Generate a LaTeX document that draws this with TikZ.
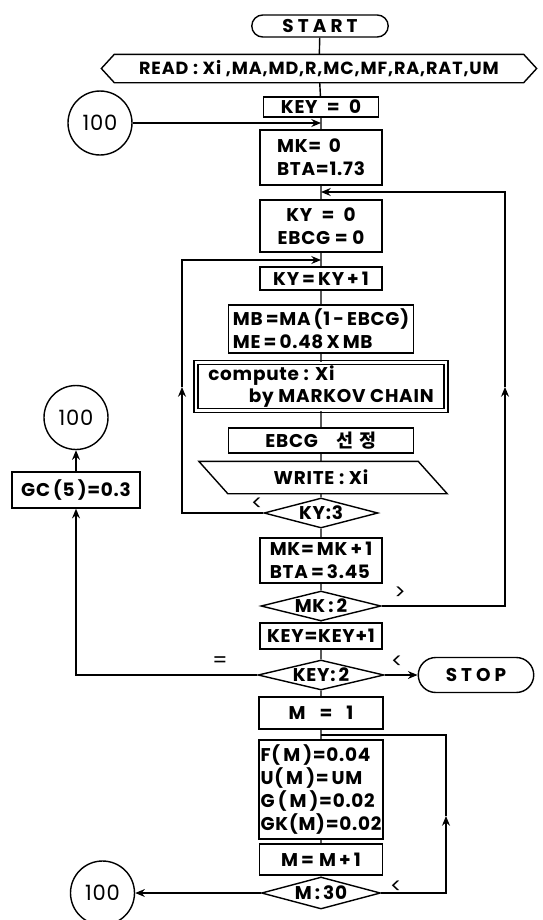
\documentclass[tikz,border=0pt]{standalone}
\usepackage{fontspec}
\setmainfont{Poppins}[LetterSpace=4]
\newfontfamily\kofont{Noto Sans CJK KR}
\newfontfamily\widefont{Poppins}[LetterSpace=22]
\newfontfamily\readfont{Poppins}[LetterSpace=5]
\usetikzlibrary{arrows.meta,shapes.geometric,shapes.misc}

\begin{document}
\begin{tikzpicture}[x=0.02cm, y=-0.02cm, line width=0.8pt, >={Stealth[length=5.5pt,width=4.5pt]},
    every node/.style={font=\fontsize{10.5}{13}\selectfont\bfseries, inner sep=1pt},
    box/.style={draw, rectangle, minimum width=2.44cm, align=left},
    dec/.style={draw, diamond, aspect=4.2, inner sep=0pt, minimum width=2.3cm, minimum height=0.6cm},
    term/.style={draw, rounded rectangle, font=\widefont\fontsize{10.5}{12}\selectfont\bfseries},
    conn/.style={draw, circle, minimum size=1.28cm, inner sep=0pt, font=\fontsize{12}{14}\selectfont},
    lab/.style={font=\fontsize{12}{14}\selectfont}]

    \useasboundingbox (0,0) rectangle (542,920);

    % Inizio e lettura
    \node[term, minimum width=2.8cm, minimum height=0.44cm] (start) at (320,26) {START};
    \node[minimum width=8.16cm, minimum height=0.54cm, font=\readfont\fontsize{10}{12}\selectfont\bfseries] (read) at (319,68.5)
        {READ : Xi ,MA,MD,R,MC,MF,RA,RAT,UM};
    \draw (read.north west) -- (read.north east) -- ([xshift=0.26cm]read.east) -- (read.south east)
        -- (read.south west) -- ([xshift=-0.26cm]read.west) -- cycle;

    % Ciclo KEY / MK
    \node[box, minimum width=2.3cm, minimum height=0.4cm, align=center] (key0) at (321,107) {KEY \ = \ 0};
    \node[conn] (c100a) at (100,123) {100};
    \node[box, minimum height=1.1cm] (mk0) at (321,157.5) {MK= \,0\\BTA=1.73};
    \node[box, minimum height=1.04cm, align=center] (ky0) at (321,226) {KY \ = \ 0\\EBCG = 0};

    % Ciclo KY
    \node[box, minimum height=0.46cm] (kyinc) at (321,278.5) {KY\,=\,KY\,+\,1};
    \node[box, minimum width=3.7cm, minimum height=0.96cm] (mb) at (321,329) {MB\,=MA\,(1\,-\,EBCG)\\ME\,=\,0.48\,X\,MB};
    \node[box, double, double distance=1.6pt, minimum width=5cm, minimum height=0.96cm] (comp) at (321,386.5)
        {compute : Xi\\\hspace{2.2em}by MARKOV CHAIN};
    \node[box, minimum width=3.7cm, minimum height=0.5cm, align=center] (ebcg) at (321,440.5) {EBCG\quad{\kofont 선\,\,정}};
    \node[minimum width=4.36cm, minimum height=0.62cm] (wr) at (321,477.5) {WRITE : Xi};
    \draw ([xshift=-0.25cm]wr.north west) -- ([xshift=-0.25cm]wr.north east) -- ([xshift=0.33cm]wr.south east)
        -- ([xshift=0.33cm]wr.south west) -- cycle;
    \node[dec, minimum width=2.28cm] (ky3) at (321,513) {KY:3};

    \node[box, minimum height=0.9cm] (mkinc) at (321,560.5) {MK=\,MK\,+\,1\\BTA\,=\,3.45};
    \node[dec, minimum width=2.4cm] (mk2) at (321,606) {MK\,:\,2};
    \node[box, minimum height=0.52cm] (keyinc) at (321,636) {KEY=KEY+1};
    \node[dec, minimum width=2.52cm] (key2) at (321,675) {KEY:\,2};
    \node[term, minimum width=2.38cm, minimum height=0.7cm] (stop) at (476,675) {STOP};

    % Ramo GC
    \node[box, minimum width=2.56cm, minimum height=0.72cm] (gc) at (76,490) {GC\,(5\,)=0.3};
    \node[conn] (c100b) at (76,417.5) {100};

    % Ciclo M
    \node[box, minimum width=2.48cm, minimum height=0.64cm, align=center] (m1) at (321,713) {M \ \ = \ \ 1};
    \node[box, minimum width=2.46cm, minimum height=1.98cm] (fm) at (321,789.5)
        {F(\,M\,)=0.04\\U(\,M\,)=\,UM\\G\,(\,M\,)=0.02\\GK(M)=0.02};
    \node[box, minimum width=2.46cm, minimum height=0.62cm, align=center] (minc) at (321,859.5) {M\,=\;M\,+\,1};
    \node[dec, minimum width=2.38cm, minimum height=0.64cm] (m30) at (321,893) {M\,:\,30};
    \node[conn] (c100c) at (102.5,893) {100};

    % Punti di giunzione
    \coordinate (jk) at (321,123);
    \coordinate (jmk) at (321,192);
    \coordinate (jky) at (321,260);
    \coordinate (upL) at (182,387);
    \coordinate (upR) at (505,387);
    \coordinate (jm) at (321,735);
    \coordinate (upB) at (446,816);

    % Linee di flusso
    \draw (start) -- (read) -- (key0) -- (mk0) -- (ky0) -- (kyinc) -- (mb) -- (comp) -- (ebcg) -- (wr)
        -- (ky3) -- (mkinc) -- (mk2) -- (keyinc) -- (key2) -- (m1) -- (fm) -- (minc) -- (m30);
    \draw[->] (c100a) -- (jk);
    \draw[->] (ky3.west) -| (upL);
    \draw[->] (upL) |- (jky);
    \draw[->] (mk2.east) -| (upR);
    \draw[->] (upR) |- (jmk);
    \draw[->] (key2.west) -| (gc.south);
    \draw[->] (gc) -- (c100b);
    \draw[->] (key2) -- (stop);
    \draw[->] (m30.east) -| (upB);
    \draw (upB) |- (jm);
    \draw[->] (m30) -- (c100c);

    % Etichette dei rami
    \node[lab] (lt1) at (257,504) {<};
    \node[lab] (gt1) at (400,593) {>};
    \node[lab] (eq1) at (220,662) {=};
    \node[lab] (lt2) at (397,662) {<};
    \node[lab] (lt3) at (396,887) {<};

\end{tikzpicture}
\end{document}
